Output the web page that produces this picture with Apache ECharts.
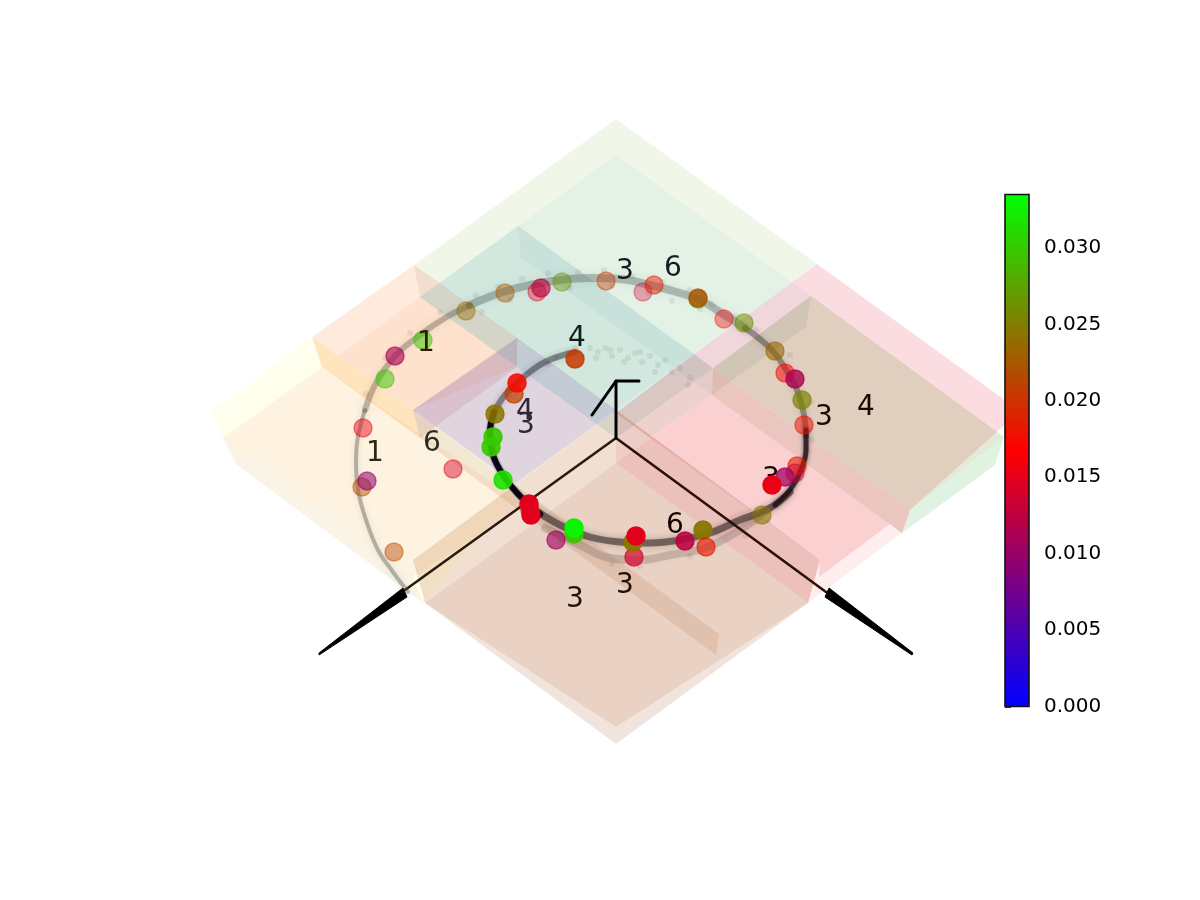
<!DOCTYPE html>
<html><head><meta charset="utf-8">
<style>html,body{margin:0;padding:0;background:#fff}#c{width:1200px;height:900px}</style>
<script src="https://cdn.jsdelivr.net/npm/echarts@6/dist/echarts.min.js"></script>
</head><body><div id="c"></div>
<script>
// ---- translucent slabs, in the chart's projected plane (u, v) ----
const yellowOuter=[[211,411],[312,337],[520,490],[423,603],[236,464]];
const yellowInner=[[223,438],[322,367],[525,505],[413,577]];
const yellowBand=[[223,438],[413,577],[423,603],[236,464]];
const greenOuter=[[616,119],[817,264],[616,410],[414,265]];
const greenInner=[[616,155],[811,296],[616,438],[420,297]];
const orangeOuter=[[312,337],[414,265],[517,338],[413,410]];
const orangeInner=[[338,356],[420,297],[517,367],[413,410]];
const orangeGold=[[312,337],[413,410],[420,438],[322,367]];
const orangeWall=[[414,265],[420,297],[517,367],[517,338]];
const blueOuter=[[518,226],[713,368],[616,438],[420,297]];
const blueBand=[[518,226],[521,258],[712,395],[713,368]];
const pinkOuter=[[817,264],[1020,411],[910,510],[694,354]];
const pinkBeige=[[811,296],[1004,437],[910,510],[713,368]];
const pinkGreen=[[1004,437],[995,465],[902,533],[910,510]];
const pinkWall=[[811,296],[806,327],[712,395],[713,368]];
const redFaint=[[712,395],[902,533],[808,603],[616,463]];
const redMain=[[712,395],[890,524],[819,577],[820,560],[650,438]];
const redWall=[[694,354],[713,368],[712,395],[650,438],[616,413]];
const redBand=[[713,368],[910,510],[902,533],[712,395]];
const purpleMain=[[413,410],[517,338],[616,410],[515,484]];
const purpleWall=[[517,338],[517,367],[420,438],[413,410]];
const purpleBand=[[413,410],[420,438],[716,655],[719,634]];
const brownFaint=[[425,603],[616,744],[808,603],[616,727]];
const brownMain=[[616,463],[808,603],[616,727],[425,603]];
const brownLeft=[[413,560],[616,410],[616,463],[425,603]];
const brownRight=[[616,410],[820,560],[808,603],[616,463]];
const faces=[
 [yellowOuter,'rgba(255,255,170,.2)'],[yellowInner,'rgba(250,160,120,.12)'],[yellowBand,'rgba(200,150,170,.1)'],
 [greenOuter,'rgba(190,220,150,.22)'],[greenInner,'rgba(150,210,215,.13)'],
 [orangeOuter,'rgba(255,155,90,.2)'],[orangeInner,'rgba(250,170,90,.13)'],[orangeGold,'rgba(255,170,80,.3)'],[orangeWall,'rgba(170,150,130,.15)'],
 [purpleMain,'rgba(100,40,90,.2)'],[purpleWall,'rgba(190,120,140,.2)'],
 [blueOuter,'rgba(130,190,190,.18)'],[blueBand,'rgba(140,180,200,.12)'],
 [pinkOuter,'rgba(235,80,100,.2)'],[pinkBeige,'rgba(120,150,60,.2)'],[pinkGreen,'rgba(100,190,110,.2)'],[pinkWall,'rgba(150,170,150,.2)'],
 [redFaint,'rgba(245,120,120,.13)'],[redMain,'rgba(240,120,120,.25)'],[redWall,'rgba(210,140,130,.4)'],[redBand,'rgba(205,120,100,.42)'],
 [brownFaint,'rgba(190,130,100,.22)'],[brownMain,'rgba(190,120,80,.34)'],[brownLeft,'rgba(200,130,70,.25)'],[brownRight,'rgba(200,90,70,.3)'],
 [purpleBand,'rgba(180,110,70,.16)']
];
// ---- quiver shafts ----
const shaftLeft=[[616,438],[405,590]];
const shaftRight=[[616,438],[826,592]];
const wedgeLeft=[[403,588],[407,597],[319,655],[319,653]];
const wedgeRight=[[829,588],[825,597],[912,655],[913,653]];
const armUp=[[616,438],[616,381]];
const armBack=[[592,415],[616,381],[639,381]];
// ---- ring of small dots, read as tracks ----
const trackA=[[408,592],[393,572],[378,550],[366,520],[358,490],[356,460],[358,436],[365,410]];
const trackB=[[365,410],[375,385],[395,356],[420,335],[445,318],[470,305]];
const trackC=[[470,305],[500,293],[530,285],[560,280],[590,278],[620,279],[650,285],[680,293],[700,300],[720,312],[745,328]];
const trackD=[[745,328],[770,348],[785,368],[797,390],[804,415],[806,436]];
const trackE=[[806,430],[806,450],[801,470],[790,490],[775,505]];
const trackF=[[790,492],[770,508],[740,520],[710,533],[680,540],[650,543],[620,542],[590,537],[560,525],[535,510]];
const trackG=[[770,508],[740,530],[705,548],[670,555],[640,560],[610,558],[580,545],[545,528]];
const trackH=[[540,514],[518,494],[503,475],[493,455],[490,432],[494,412]];
const trackI=[[494,412],[505,395],[520,380],[545,362],[575,352]];
const specks=[[575,348],[568,352],[556,358],[548,364],[582,356],[590,348],[598,352],[605,348],[612,356],[620,350],[628,358],[635,353],[642,362],[650,356],[658,365],[665,360],[672,372],[680,368],[688,385],[690,378],[596,358],[610,350],[624,362],[640,352],[655,372],
 [476,296],[498,287],[522,279],[548,273],[578,272],[604,270],[632,276],[662,282],[690,290],[712,304],[735,316],[756,330],[777,347],[800,380],[811,402],[790,355],[440,312],[410,333],[385,358],[366,394],[648,293],[672,301],[700,309],[570,288],[540,292],[510,300],[482,312],[612,286],[812,440],[612,564],[640,566],[690,556],[560,542],[530,520],[745,536],[768,520]];
// ---- scatter: u, v, value, opacity ----
const dotU=[537,541,562,606,505,466,643,654,698,698,724,744,775,785,795,802,804,423,395,385,363,362,367,394,453,797,795,785,772,762,703,706,685,634,633,636,574,574,556,530,529,531,503,491,493,495,514,517,575];
const dotV=[292,288,282,281,293,311,292,285,299,298,319,323,351,373,379,400,425,340,356,379,428,487,481,552,469,466,473,477,485,515,530,547,541,557,542,536,534,528,540,510,504,515,480,447,437,414,394,383,359];
const dotValue=[.0145,.0125,.0265,.0205,.0225,.0239,.0135,.0185,.03,.0205,.0165,.0265,.0235,.0165,.0115,.0255,.0175,.03,.0112,.03,.0155,.0215,.0095,.0215,.0145,.0185,.0135,.0105,.0155,.0245,.0245,.018,.0125,.014,.0245,.015,.0295,.033,.0105,.0245,.015,.0148,.0315,.03,.03,.0245,.021,.0175,.0205];
const dotAlpha=[.38,.62,.42,.42,.42,.42,.33,.47,.62,.68,.38,.52,.58,.5,.8,.68,.5,.5,.62,.5,.46,.46,.56,.46,.46,.58,.46,.74,1,.56,.95,.62,.88,.68,.95,1,.9,1,.62,.9,1,1,.9,.92,.92,.86,.74,.88,.86];
// ---- text labels ----
const textItems=['1','1','6','3','4','4','3','6','3','4','6','3','3'];
const textU=[426,375,432,526,525,577,625,673,824,866,675,625,575];
const textV=[344,454,444,426,412,339,272,269,418,408,526,586,600];
const textInk=['#2a1c00','#2e2616','#2e2a20','#2e2636','#2e2636','#0c1e1e','#0f1e1c','#0f1e1c','#160a02','#160a02','#160600','#241008','#241008'];
const backText=['3'];const backU=[771];const backV=[480];
// ---- colour bar ----
const barMin=0,barMax=0.0335;
const barColors=['#0000ff','#ff0000','#00ff00'];
const barTicks=[0,0.005,0.01,0.015,0.02,0.025,0.03];

function cmap(v){const t=v/barMax;let r,g,b;
 if(t<.5){r=255*t*2;g=0;b=255*(1-t*2);}else{r=255*(1-(t-.5)*2);g=255*(t-.5)*2;b=0;}
 return 'rgb('+[r,g,b].map(Math.round).join(',')+')';}
function seg(pts,color,width,z){return {type:'line',xAxisIndex:0,yAxisIndex:0,data:pts,showSymbol:false,silent:true,z:z,
 lineStyle:{color:color,width:width,cap:'round',join:'round'},animation:false};}
function track(pts,color,width,blur){const s=seg(pts,color,width,4);s.smooth=.4;s.lineStyle.shadowBlur=blur;s.lineStyle.shadowColor=color;return s;}
function lbl(t,c){return {show:true,position:'inside',formatter:t,color:c,fontSize:28,fontFamily:'DejaVu Sans',textBorderWidth:0,opacity:1};}

const chart=echarts.init(document.getElementById('c'),null,{renderer:'canvas'});
chart.setOption({
 animation:false,backgroundColor:'#fff',
 grid:[{left:0,top:0,width:1200,height:900,show:false},{left:1005,top:194.5,width:24,height:512,show:false}],
 xAxis:[{type:'value',gridIndex:0,min:0,max:1200,show:false},{type:'value',gridIndex:1,min:0,max:1,show:false}],
 yAxis:[{type:'value',gridIndex:0,min:0,max:900,inverse:true,show:false},
  {type:'value',gridIndex:1,min:barMin,max:barMax,position:'right',splitLine:{show:false},axisLine:{show:false},
   axisTick:{show:true,length:6,customValues:barTicks,lineStyle:{color:'#000',width:1.5}},
   axisLabel:{show:true,customValues:barTicks,color:'#000',fontFamily:'DejaVu Sans',fontSize:20,margin:15,padding:[4,0,0,0],formatter:v=>v.toFixed(3)}}],
 visualMap:[{type:'continuous',seriesIndex:[6],dimension:2,min:barMin,max:barMax,left:1005,top:194.5,itemWidth:24,itemHeight:512,padding:0,
  calculable:false,text:null,hoverLink:false,indicatorSize:0,handleSize:0,inRange:{color:barColors},z:5}],
 series:[
  {type:'custom',xAxisIndex:0,yAxisIndex:0,z:1,silent:true,data:faces.map((f,i)=>[i]),
   renderItem:(p,api)=>{const f=faces[p.dataIndex];return {type:'polygon',shape:{points:f[0].map(q=>api.coord(q))},style:{fill:f[1]}};}},
  seg(shaftLeft,'#2a1a10',2.6,2),
  seg(shaftRight,'#2a1008',2.6,2),
  {type:'custom',xAxisIndex:0,yAxisIndex:0,z:3,silent:true,data:[[0],[1]],
   renderItem:(p,api)=>({type:'polygon',shape:{points:[wedgeLeft,wedgeRight][p.dataIndex].map(q=>api.coord(q))},style:{fill:'#000',stroke:'#000',lineWidth:1}})},
  seg(armUp,'#000',3,3),
  seg(armBack,'#000',3,3),
  {type:'scatter',xAxisIndex:0,yAxisIndex:0,z:7,symbolSize:18,silent:true,
   data:dotU.map((u,i)=>({value:[u,dotV[i],dotValue[i]],itemStyle:{opacity:dotAlpha[i],borderColor:cmap(dotValue[i]),borderWidth:1.5}}))},
  track(trackA,'rgba(70,70,60,.36)',4,6),
  track(trackB,'rgba(60,50,40,.3)',6,8),
  track(trackC,'rgba(35,50,50,.28)',8,10),
  track(trackD,'rgba(35,30,30,.38)',6,7),
  track(trackE,'rgba(30,15,20,.78)',5,4),
  track(trackF,'rgba(25,15,15,.5)',7,7),
  track(trackG,'rgba(40,30,30,.17)',8,8),
  track(trackH,'rgba(5,0,15,.9)',6,2),
  track(trackI,'rgba(25,25,35,.42)',6,6),
  {type:'scatter',xAxisIndex:0,yAxisIndex:0,z:4,symbolSize:6,silent:true,itemStyle:{color:'rgba(40,50,50,.1)'},data:specks},
  {type:'scatter',xAxisIndex:0,yAxisIndex:0,z:6,symbolSize:1,silent:true,itemStyle:{color:'rgba(0,0,0,0)'},
   data:backText.map((t,i)=>({value:[backU[i],backV[i]],label:lbl(t,'#160600')}))},
  {type:'scatter',xAxisIndex:0,yAxisIndex:0,z:8,symbolSize:1,silent:true,itemStyle:{color:'rgba(0,0,0,0)'},
   data:textItems.map((t,i)=>({value:[textU[i],textV[i]],label:lbl(t,textInk[i])}))},
  {type:'custom',xAxisIndex:1,yAxisIndex:1,z:9,silent:true,data:[[0,barMin,1,barMax]],encode:{x:[0,2],y:[1,3]},
   renderItem:(p,api)=>{const a=api.coord([api.value(0),api.value(1)]),b=api.coord([api.value(2),api.value(3)]);
    return {type:'rect',shape:{x:a[0],y:b[1],width:b[0]-a[0],height:a[1]-b[1]},style:{fill:null,stroke:'#111',lineWidth:1.6}};}}
 ]
});
</script></body></html>
